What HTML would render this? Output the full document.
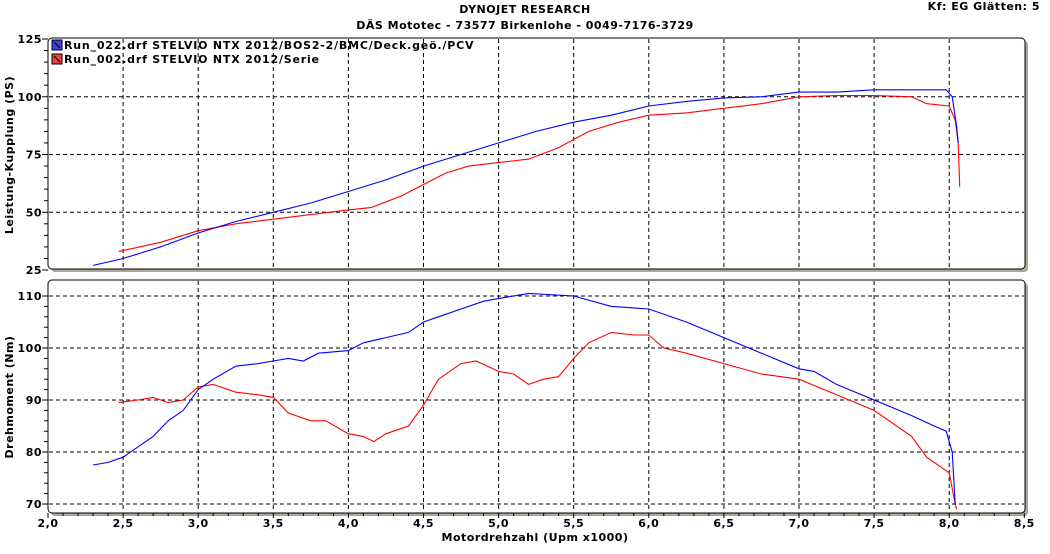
<!DOCTYPE html>
<html><head><meta charset="utf-8"><style>
html,body{margin:0;padding:0;background:#fff;}
svg text{font-family:"DejaVu Sans","Liberation Sans",sans-serif;font-weight:bold;font-size:11px;fill:#000;letter-spacing:0.5px;}
</style></head><body>
<svg id="s" width="1050" height="549" xmlns="http://www.w3.org/2000/svg">
<rect width="1050" height="549" fill="#fff"/>
<text x="525" y="13" text-anchor="middle">DYNOJET RESEARCH</text>
<text x="525" y="29" text-anchor="middle">DÄS Mototec - 73577 Birkenlohe  - 0049-7176-3729</text>
<text x="1040" y="10" text-anchor="end">Kf: EG  Glätten: 5</text>
<g id="g"></g>
<text x="535" y="541" text-anchor="middle">Motordrehzahl (Upm x1000)</text>
<text transform="translate(13,155) rotate(-90)" text-anchor="middle">Leistung-Kupplung (PS)</text>
<text transform="translate(13,397) rotate(-90)" text-anchor="middle">Drehmoment (Nm)</text>
</svg>
<script>
const g=document.getElementById('g');let h='';
const X=r=>48+(r-2)*150.2;
const Y1=v=>39+(125-v)*2.31;
const Y2=v=>296+(110-v)*5.2;
h+='<rect x="51" y="41" width="977" height="231" rx="4" fill="#aca899"/>';
h+='<rect x="48" y="38" width="977" height="231" rx="4" fill="#fff" stroke="#000"/>';
h+='<rect x="51" y="283" width="977" height="233" rx="4" fill="#aca899"/>';
h+='<rect x="48" y="280" width="977" height="233" rx="4" fill="#fff" stroke="#000"/>';
for(let r=2.5;r<8.5;r+=0.5){const x=X(r).toFixed(1);
 h+=`<line x1="${x}" y1="39" x2="${x}" y2="268" stroke="#000" stroke-dasharray="4,3"/>`;
 h+=`<line x1="${x}" y1="281" x2="${x}" y2="512" stroke="#000" stroke-dasharray="4,3"/>`;}
for(let v=50;v<=100;v+=25){const y=Y1(v).toFixed(1);h+=`<line x1="49" y1="${y}" x2="1024" y2="${y}" stroke="#000" stroke-dasharray="4,3"/>`;}
for(let v=70;v<=110;v+=10){const y=Y2(v).toFixed(1);h+=`<line x1="49" y1="${y}" x2="1024" y2="${y}" stroke="#000" stroke-dasharray="4,3"/>`;}
for(let v=25;v<=125;v+=5){const y=Y1(v);const l=v%25==0?6:4;h+=`<line x1="${48-l}" y1="${y}" x2="48" y2="${y}" stroke="#000"/>`;if(v%25==0)h+=`<text x="${42}" y="${y+4}" text-anchor="end">${v}</text>`;}
for(let v=70;v<=110;v+=2){const y=Y2(v);const l=v%10==0?6:4;h+=`<line x1="${48-l}" y1="${y}" x2="48" y2="${y}" stroke="#000"/>`;if(v%10==0)h+=`<text x="${42}" y="${y+4}" text-anchor="end">${v}</text>`;}
for(let r=2;r<=8.501;r+=0.1){const x=X(r);h+=`<line x1="${x}" y1="513" x2="${x}" y2="${Math.round(r*10)%5==0?518:516}" stroke="#000"/>`;}
for(let r=2;r<=8.501;r+=0.5){h+=`<text x="${X(r)}" y="527" text-anchor="middle">${r.toFixed(1).replace('.',',')}</text>`;}
function pl(d,Y,c){return `<polyline fill="none" stroke="${c}" stroke-width="1.1" points="${d.map(p=>X(p[0]).toFixed(1)+','+Y(p[1]).toFixed(1)).join(' ')}"/>`;}
const bp=[[2.3,27],[2.5,30],[2.75,35],[3.0,41],[3.25,46],[3.5,50],[3.75,54],[4.0,59],[4.25,64],[4.5,70],[4.75,75],[5.0,80],[5.25,85],[5.5,89],[5.75,92],[6.0,96],[6.25,98],[6.5,99.5],[6.75,100],[7.0,102],[7.25,102],[7.5,103],[7.75,103],[7.98,103],[8.02,100],[8.05,87],[8.06,80]];
const rp=[[2.47,33],[2.75,37],[3.0,42],[3.25,45],[3.5,47],[3.75,49],[4.0,51],[4.15,52],[4.35,57],[4.5,62],[4.65,67],[4.8,70],[5.0,71.5],[5.2,73],[5.4,78],[5.6,85],[5.8,89],[6.0,92],[6.25,93],[6.5,95],[6.75,97],[7.0,100],[7.25,100.5],[7.5,100.5],[7.75,100],[7.85,97],[8.0,96],[8.04,90],[8.06,80],[8.07,61]];
const bt=[[2.3,77.5],[2.4,78],[2.5,79],[2.6,81],[2.7,83],[2.8,86],[2.9,88],[3.0,92],[3.1,94],[3.25,96.5],[3.4,97],[3.5,97.5],[3.6,98],[3.7,97.5],[3.8,99],[4.0,99.5],[4.1,101],[4.25,102],[4.4,103],[4.5,105],[4.6,106],[4.75,107.5],[4.9,109],[5.0,109.5],[5.2,110.5],[5.5,110],[5.75,108],[6.0,107.5],[6.25,105],[6.5,102],[6.75,99],[7.0,96],[7.1,95.5],[7.25,93],[7.5,90],[7.75,87],[7.9,85],[7.98,84],[8.02,80],[8.04,70]];
const rt=[[2.47,89.5],[2.6,90],[2.7,90.5],[2.8,89.5],[2.9,90],[3.0,92.5],[3.1,93],[3.25,91.5],[3.4,91],[3.5,90.5],[3.6,87.5],[3.75,86],[3.85,86],[4.0,83.5],[4.1,83],[4.17,82],[4.25,83.5],[4.4,85],[4.5,89],[4.6,94],[4.75,97],[4.85,97.5],[5.0,95.5],[5.1,95],[5.2,93],[5.3,94],[5.4,94.5],[5.5,98],[5.6,101],[5.75,103],[5.9,102.5],[6.0,102.5],[6.1,100],[6.25,99],[6.5,97],[6.75,95],[7.0,94],[7.25,91],[7.5,88],[7.75,83],[7.85,79],[8.0,76],[8.04,70],[8.05,69]];
h+=pl(rp,Y1,'#f00')+pl(bp,Y1,'#00f')+pl(rt,Y2,'#f00')+pl(bt,Y2,'#00f');
h+='<rect x="52" y="40" width="10" height="10" fill="#4040f0" stroke="#000"/><line x1="54" y1="42" x2="60" y2="48" stroke="#000"/>';
h+='<rect x="52" y="54" width="10" height="10" fill="#f04040" stroke="#000"/><line x1="54" y1="56" x2="60" y2="62" stroke="#000"/>';
h+='<text x="64" y="49" style="letter-spacing:0.8px">Run_022.drf STELVIO NTX 2012/BOS2-2/BMC/Deck.geö./PCV</text>';
h+='<text x="64" y="63" style="letter-spacing:0.8px">Run_002.drf STELVIO NTX 2012/Serie</text>';
g.innerHTML=h;
</script>
</body></html>
